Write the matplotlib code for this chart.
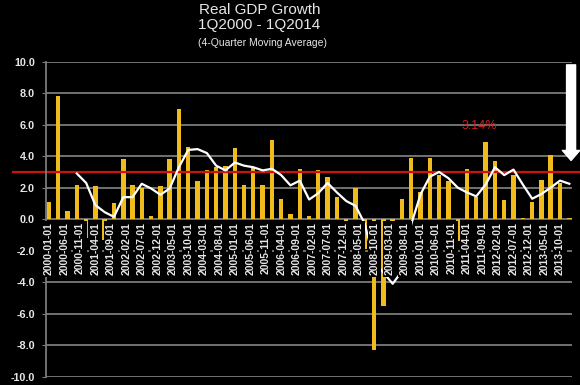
import matplotlib
matplotlib.use('Agg')
import matplotlib.pyplot as plt
import matplotlib.dates as mdates
from matplotlib.ticker import FormatStrFormatter
import pandas as pd

# quarterly real GDP growth, 1Q2000 - 1Q2014 (annualized %)
quarters = pd.date_range('2000-01-01', '2014-01-01', freq='QS')
gdp_growth = [1.1, 7.8, 0.5, 2.2,
              -1.2, 2.1, -1.3, 1.0,
              3.8, 2.2, 2.0, 0.2,
              2.1, 3.8, 7.0, 4.6,
              2.4, 3.1, 3.3, 3.4,
              4.5, 2.2, 3.3, 2.2,
              5.0, 1.3, 0.3, 3.2,
              0.2, 3.1, 2.7, 1.4,
              -2.7, 2.0, -1.9, -8.3,
              -5.5, -0.5, 1.3, 3.9,
              1.7, 3.9, 2.8, 2.4,
              -1.4, 3.2, 1.4, 4.9,
              3.7, 1.2, 2.8, 0.1,
              1.1, 2.5, 4.1, 2.3,
              0.1]

# 4-quarter moving average (starts 4Q2000)
ma_quarters = quarters[3:]
moving_avg = [2.9,
              2.3, 0.9, 0.45, 0.15,
              1.4, 1.4, 2.25, 1.95,
              1.55, 1.95, 3.3, 4.4,
              4.45, 4.2, 3.4, 3.1,
              3.6, 3.4, 3.3, 3.1,
              3.2, 2.8, 2.15, 2.45,
              1.25, 1.65, 2.3, 1.7,
              1.15, 0.85, -0.3, -2.7,
              -3.4, -4.1, -3.3, -0.3,
              1.6, 2.7, 3.0, 2.6,
              2.0, 1.7, 1.45, 2.2,
              3.3, 2.8, 3.15, 2.2,
              1.3, 1.6, 2.0, 2.45,
              2.25]

tick_dates = pd.date_range('2000-01-01', '2013-10-01', freq='5MS')
trend_level = 3.0
trend_label = '3.14%'

bar_color = '#f0bc1c'
grid_color = '#7a7a7a'
text_color = '#e6e6e6'

fig = plt.figure(figsize=(5.8, 3.85), dpi=100, facecolor='black')
ax = fig.add_axes([0.0791, 0.0216, 0.9078, 0.8181])
ax.set_facecolor('black')

ax.bar(quarters, gdp_growth, width=43, color=bar_color, zorder=2)
ax.plot(ma_quarters, moving_avg, color='white', lw=1.6, zorder=3)
ax.axhline(trend_level, xmin=-0.0625, xmax=1.0144, color='#d01010', lw=1.6,
           zorder=2.5, clip_on=False)

ax.set_ylim(-10, 10)
ax.set_xlim(pd.Timestamp('1999-12-02'), pd.Timestamp('2014-01-31'))
ax.set_yticks(range(-10, 11, 2))
ax.yaxis.set_major_formatter(FormatStrFormatter('%.1f'))
ax.yaxis.grid(True, color=grid_color, lw=1.3)
ax.set_axisbelow(True)
ax.set_xticks([])
for side in ['top', 'right', 'bottom']:
    ax.spines[side].set_visible(False)
ax.spines['left'].set_color(grid_color)
ax.spines['left'].set_linewidth(1.3)
ax.tick_params(axis='y', colors=grid_color, labelcolor=text_color,
               length=3, pad=5, labelsize=7.8)
for lbl in ax.get_yticklabels():
    lbl.set_fontweight('bold')
    lbl.set_family('Liberation Sans')

# date labels sit inside the plot, just under the zero line
for d in tick_dates:
    ax.text(d, -0.2, d.strftime('%Y-%m-%d'), rotation=90, ha='center', va='top',
            color=text_color, fontsize=7.5, fontweight='bold', family='Liberation Sans',
            bbox=dict(facecolor='black', edgecolor='none', pad=1.2), zorder=4)

ax.text(pd.Timestamp('2011-08-05'), 5.9, trend_label, color='#cc2020',
        ha='center', va='center', fontsize=9, family='Liberation Sans')

arrow_x = mdates.date2num(pd.Timestamp('2014-01-18'))
ax.annotate('', xy=(arrow_x, 3.73), xytext=(arrow_x, 9.8),
            arrowprops=dict(arrowstyle='simple,head_length=0.72,head_width=1.25,tail_width=0.65',
                            mutation_scale=10, color='white', shrinkA=0, shrinkB=0),
            annotation_clip=False, zorder=5)

fig.text(0.447, 1 - 10 / 385, 'Real GDP Growth', color=text_color, ha='center', va='center',
         fontsize=11, family='Liberation Sans')
fig.text(0.447, 1 - 25 / 385, '1Q2000 - 1Q2014', color=text_color, ha='center', va='center',
         fontsize=11, family='Liberation Sans')
fig.text(0.453, 1 - 43 / 385, '(4-Quarter Moving Average)', color=text_color, ha='center',
         va='center', fontsize=7.5, family='Liberation Sans')

fig.savefig('out.png', dpi=100, facecolor='black')
